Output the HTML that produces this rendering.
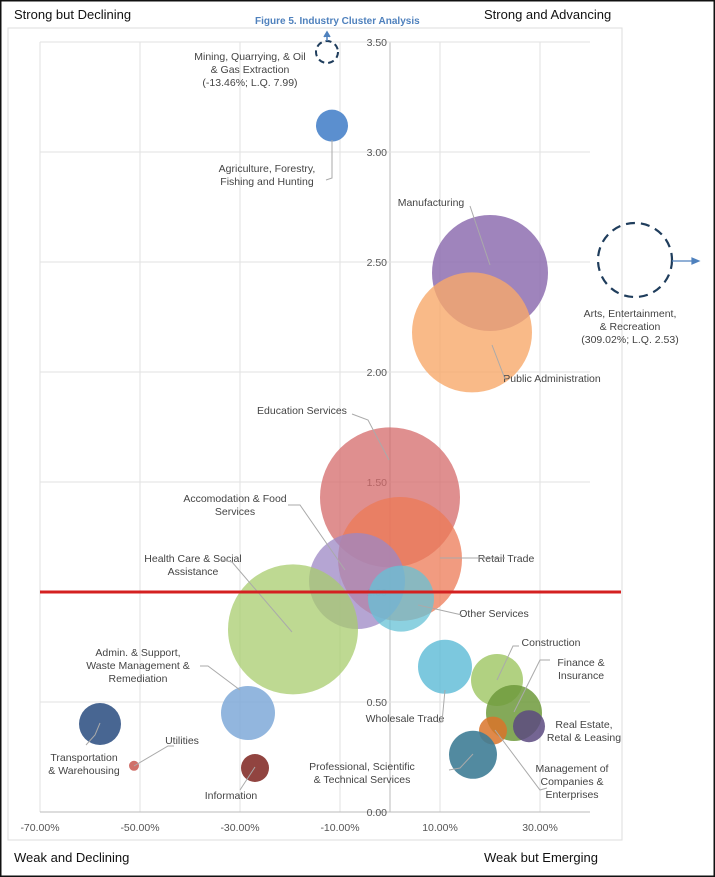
<!DOCTYPE html>
<html><head><meta charset="utf-8"><style>
html,body{margin:0;padding:0;background:#fff;}
svg{display:block;font-family:"Liberation Sans",sans-serif;}
.lbl{font-size:10.5px;fill:#444;}
.tk{font-size:10.5px;fill:#555;}
.q{font-size:13px;fill:#111;}
</style></head><body>
<svg id="chart" width="715" height="877" viewBox="0 0 715 877">
<rect x="0.5" y="0.5" width="714" height="876" fill="#fff" stroke="#111" stroke-width="2"/>
<rect x="8" y="28" width="614" height="812" fill="none" stroke="#ddd"/>
<g id="grid"></g>
<g id="bubbles"></g>
<g id="labels"></g>
<text x="255" y="24" font-size="10px" font-weight="bold" fill="#4f81bd">Figure 5. Industry Cluster Analysis</text>
<text class="q" x="14" y="19">Strong but Declining</text>
<text class="q" x="484" y="19">Strong and Advancing</text>
<text class="q" x="14" y="862">Weak and Declining</text>
<text class="q" x="484" y="862">Weak but Emerging</text>
</svg>
<script>
const xTicks=[-70,-50,-30,-10,10,30];
const yTicks=[0,0.5,1,1.5,2,2.5,3,3.5];
const names=["Agriculture","Manufacturing","Public Administration","Education Services","Retail Trade","Accomodation & Food","Other Services","Health Care","Wholesale Trade","Construction","Finance & Insurance","Real Estate","Management","Professional","Admin & Support","Transportation","Utilities","Information"];
const growth=[-11.6,20,16.4,0,2,-6.6,2.2,-19.4,11,21.4,24.8,27.8,20.6,16.6,-28.4,-58,-51.2,-27];
const lq=[3.12,2.45,2.18,1.43,1.15,1.05,0.97,0.83,0.66,0.6,0.45,0.39,0.37,0.26,0.45,0.4,0.21,0.2];
const sizes=[16,58,60,70,62,48,33,65,27,26,28,16,14,24,27,21,5,14];
const colors=["#5b8fcf","#8e6fb0","#f7a96a","#d46a6a","#ec7a56","#9c87c4","#66c1d6","#a8cc6e","#5bbad6","#a3c96b","#6f9a3c","#5c4a80","#d9742a","#3f7d96","#7fa9d8","#3e5e8c","#d0706a","#8b3a36"];
const opac=[1,0.85,0.8,0.75,0.75,0.75,0.75,0.75,0.8,0.85,0.85,0.85,0.85,0.9,0.85,0.95,1,0.95];
const X=v=>390+v*5, Y=v=>812-v*220;
const NS="http://www.w3.org/2000/svg";
function mk(t,a,p){const e=document.createElementNS(NS,t);for(const k in a)e.setAttribute(k,a[k]);p.appendChild(e);return e;}
const svg=document.getElementById('chart');
const g=document.getElementById('grid');
xTicks.concat([0]).forEach(v=>{const l=mk('line',{x1:X(v),x2:X(v),y1:Y(3.5),y2:Y(0),stroke:(v===0?'#bbb':'#e2e2e2')},g);

});
yTicks.forEach(v=>{const l=mk('line',{x1:X(-70),x2:X(40),y1:Y(v),y2:Y(v),stroke:(v===0?'#bbb':'#e2e2e2')},g);


const t=mk('text',{x:X(0)-3,y:Y(v)+4,'text-anchor':'end',class:'tk'},g);t.textContent=v.toFixed(2);

});
xTicks.forEach(v=>{const t=mk('text',{x:X(v),y:831,'text-anchor':'middle',class:'tk'},g);t.textContent=v.toFixed(2)+'%';

});
const b=document.getElementById('bubbles');
names.forEach((n,i)=>{const c=mk('circle',{cx:X(growth[i]),cy:Y(lq[i]),r:sizes[i],fill:colors[i],'fill-opacity':opac[i]},b);

});
const rl=mk('line',{x1:40,x2:621,y1:Y(1),y2:Y(1),stroke:'#d42020','stroke-width':3},svg);


const m1=mk('circle',{cx:327,cy:52,r:11,fill:'none',stroke:'#1f3d5c','stroke-width':2,'stroke-dasharray':'6 4'},svg);


const m2=mk('circle',{cx:635,cy:260,r:37,fill:'none',stroke:'#1f3d5c','stroke-width':2.2,'stroke-dasharray':'9 6'},svg);


const a1=mk('path',{d:'M327,41 L327,34 M324,37 L327,32 L330,37',stroke:'#4f81bd','stroke-width':1.5,fill:'#4f81bd'},svg);


const a2=mk('path',{d:'M672,261 L694,261 M692,258 L699,261 L692,264 Z',stroke:'#4f81bd','stroke-width':1.2,fill:'#4f81bd'},svg);


const L=document.getElementById('labels');
const labs=[
["Mining, Quarrying, & Oil|& Gas Extraction|(-13.46%; L.Q. 7.99)",250,60,'#111'],
["Agriculture, Forestry,|Fishing and Hunting",267,172],
["Manufacturing",431,206],
["Arts, Entertainment,|& Recreation|(309.02%; L.Q. 2.53)",630,317,'#111'],
["Public Administration",552,382],
["Education Services",302,414],
["Accomodation & Food|Services",235,502],
["Retail Trade",506,562],
["Health Care & Social|Assistance",193,562],
["Other Services",494,617],
["Construction",551,646],
["Finance &|Insurance",581,666],
["Admin. & Support,|Waste Management &|Remediation",138,656],
["Wholesale Trade",405,722],
["Real Estate,|Retal & Leasing",584,728],
["Utilities",182,744],
["Transportation|& Warehousing",84,761],
["Management of|Companies &|Enterprises",572,772],
["Professional, Scientific|& Technical Services",362,770],
["Information",231,799]];
labs.forEach(l=>{const t=mk('text',{x:l[1],y:l[2],'text-anchor':'middle',class:'lbl'},L);
if(l[3])t.setAttribute('fill',l[3]);
l[0].split('|').forEach((s,j)=>{const ts=mk('tspan',{x:l[1],dy:j?13:0},t);ts.textContent=s;});

});
const leaders=["M332,140 L332,178 L326,180","M470,206 L490,265","M505,379 L492,345","M352,414 L368,420 L389,460","M288,505 L300,505 L345,570","M505,558 L440,558","M222,560 L232,562 L292,632","M462,615 L418,605","M519,646 L513,646 L497,680","M550,660 L540,660 L514,712","M200,666 L208,666 L240,690","M438,722 L442,722 L445,690","M174,746 L168,746 L134,766","M86,745 L95,735 L100,723","M547,788 L540,790 L495,730","M449,770 L460,768 L473,754","M240,790 L255,767"];
leaders.forEach(d=>{const p=mk('path',{d:d,stroke:'#aaa','stroke-width':1,fill:'none'},L);

});
</script>
</body></html>
